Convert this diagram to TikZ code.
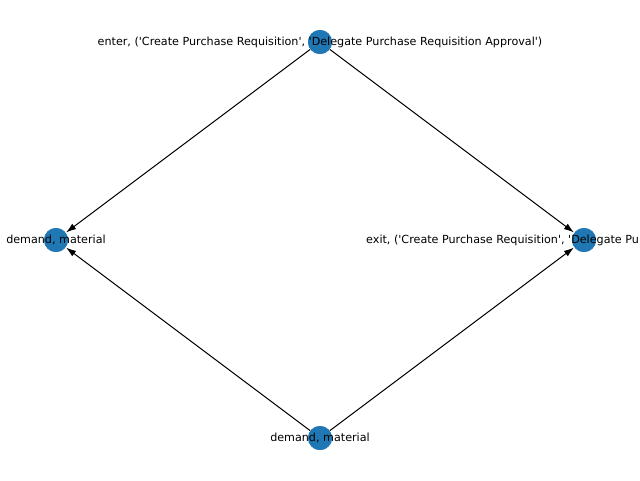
\documentclass[tikz,border=0pt]{standalone}
\usepackage{fontspec}
\setmainfont{DejaVu Sans}[Ligatures=TeXOff]
\usetikzlibrary{arrows.meta}
\definecolor{nodeblue}{HTML}{1F77B4}
\begin{document}
\begin{tikzpicture}[x=0.75pt,y=-0.75pt,
  vertex/.style={circle,fill=nodeblue,minimum size=18pt,inner sep=0pt},
  lbl/.style={font=\fontsize{8.37}{9}\selectfont,inner sep=0pt,text=black},
  edge/.style={draw=black,line width=0.75pt,-{Latex[length=7.5pt,width=5pt]},shorten >=0.3pt}]
\useasboundingbox (0,0) rectangle (640,480);
\clip (0,0) rectangle (640,480);
\node[vertex] (t) at (320,42) {};
\node[vertex] (l) at (56,240) {};
\node[vertex] (r) at (584,240) {};
\node[vertex] (b) at (320,438) {};
\draw[edge] (t) -- (l);
\draw[edge] (t) -- (r);
\draw[edge] (b) -- (l);
\draw[edge] (b) -- (r);
\node[vertex] at (t) {};
\node[vertex] at (l) {};
\node[vertex] at (r) {};
\node[vertex] at (b) {};
\node[lbl] (tl) at (t) {enter, ('Create Purchase Requisition', 'Delegate Purchase Requisition Approval')};
\node[lbl] (ll) at (l) {demand, material};
\node[lbl] (rl) at (r) {exit, ('Create Purchase Requisition', 'Delegate Purchase Requisition Approval')};
\node[lbl] (bl) at (b) {demand, material};
\end{tikzpicture}
\end{document}
